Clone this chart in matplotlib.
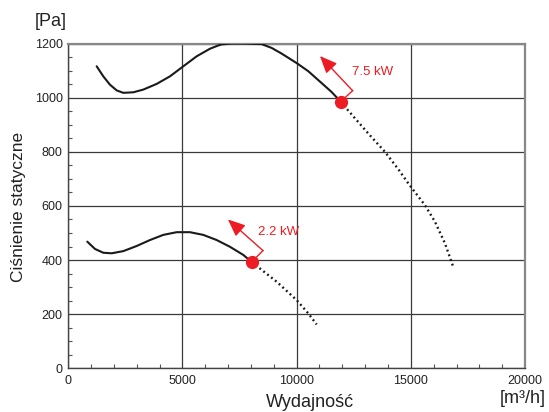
import matplotlib
matplotlib.use("Agg")
import matplotlib.pyplot as plt
from matplotlib.ticker import MultipleLocator

plt.rcParams['font.family'] = ['Liberation Sans', 'DejaVu Sans']

# ---- data ----
upper_x = [1243, 1532, 1826, 2119, 2408, 2846, 3284, 3870, 4453, 5035, 5622, 6204,
           6567, 6716, 7154, 7737, 8467, 8905, 9343, 10000, 10508, 11095, 11532, 11821, 11926]
upper_y = [1116, 1079, 1048, 1027, 1018, 1020, 1030, 1051, 1079, 1116, 1153, 1181,
           1193, 1197, 1200, 1200, 1198, 1184, 1163, 1128, 1098, 1054, 1021, 995, 985]
upper_ext_x = [11926, 12553, 13135, 13866, 14448, 14917, 15617, 16055, 16493, 16856]
upper_ext_y = [985, 924, 868, 800, 736, 680, 603, 542, 462, 375]

lower_x = [832, 1169, 1532, 1900, 2408, 2995, 3577, 4159, 4746, 5328, 5911, 6497,
           7080, 7662, 8030]
lower_y = [468, 441, 427, 425, 433, 452, 474, 493, 503, 503, 493, 474,
           449, 419, 393]
lower_ext_x = [8030, 9124, 10000, 10508, 10876]
lower_ext_y = [393, 320, 252, 203, 162]

point_x = [11926, 8030]
point_y = [985, 393]
power_labels = ['7.5 kW', '2.2 kW']

xticks = [0, 5000, 10000, 15000, 20000]
yticks = [0, 200, 400, 600, 800, 1000, 1200]

RED = '#ed1c24'
DOTS = (0, (0.8, 1.3))

fig = plt.figure(figsize=(5.49, 4.12), dpi=100)
ax = fig.add_axes([0.1244, 0.1061, 0.8319, 0.7881])

ax.plot(upper_x, upper_y, color='#1a1a1a', lw=1.5, solid_capstyle='round',
        solid_joinstyle='round', zorder=3)
ax.plot(upper_ext_x, upper_ext_y, color='#1a1a1a', lw=1.7, linestyle=DOTS, zorder=3)
ax.plot(lower_x, lower_y, color='#1a1a1a', lw=1.5, solid_capstyle='round',
        solid_joinstyle='round', zorder=3)
ax.plot(lower_ext_x, lower_ext_y, color='#1a1a1a', lw=1.7, linestyle=DOTS, zorder=3)

# operating points with arrows
corner_dx = [525, 495]
corner_dy = [41, 42]
tip_dx = [-905, -1040]
tip_dy = [169, 157]
label_dx = [495, 275]
label_dy = [110, 111]
for px, py, lab, cdx, cdy, tdx, tdy, ldx, ldy in zip(point_x, point_y, power_labels,
                                                     corner_dx, corner_dy, tip_dx, tip_dy,
                                                     label_dx, label_dy):
    cx, cy = px + cdx, py + cdy
    ax.plot([px, cx], [py, cy], color=RED, lw=1.0, zorder=4)
    ax.annotate('', xy=(px + tdx, py + tdy), xytext=(cx, cy),
                arrowprops=dict(arrowstyle='-|>,head_length=0.7,head_width=0.3',
                                mutation_scale=15, color=RED, lw=1.0,
                                shrinkA=0, shrinkB=0), zorder=4)
    ax.text(px + ldx, py + ldy, lab, color=RED, fontsize=9.5, va='center', ha='left', zorder=5)
    ax.plot([px], [py], 'o', color=RED, markersize=8.5, zorder=6)

ax.set_xlim(0, 20000)
ax.set_ylim(0, 1200)
ax.set_xticks(xticks)
ax.set_yticks(yticks)
ax.set_xticklabels([str(v) for v in xticks], fontsize=9)
ax.set_yticklabels([str(v) for v in yticks], fontsize=9)
ax.xaxis.set_minor_locator(MultipleLocator(1000))
ax.yaxis.set_minor_locator(MultipleLocator(50))
ax.tick_params(which='major', direction='in', length=0, pad=4, colors='#222222')
ax.tick_params(which='minor', direction='in', length=3, width=0.8, color='#555555')
ax.tick_params(axis='x', which='major', pad=5)

ax.grid(True, which='major', color='#3a3a3a', lw=0.9)
ax.set_axisbelow(True)
for s in ['left', 'bottom']:
    ax.spines[s].set_color('#444444')
    ax.spines[s].set_linewidth(1.0)
for s in ['top', 'right']:
    ax.spines[s].set_color('#888888')
    ax.spines[s].set_linewidth(1.6)

fig.text(0.034, 0.498, 'Ciśnienie statyczne', rotation=90, fontsize=12.5,
         ha='center', va='center', color='#222222')
fig.text(0.092, 0.947, '[Pa]', fontsize=13, ha='center', va='center', color='#222222')
fig.text(0.565, 0.022, 'Wydajność', fontsize=13, ha='center', va='center', color='#222222')
fig.text(0.953, 0.032, '[m³/h]', fontsize=13, ha='center', va='center', color='#222222')

fig.savefig('out.png', dpi=100)
